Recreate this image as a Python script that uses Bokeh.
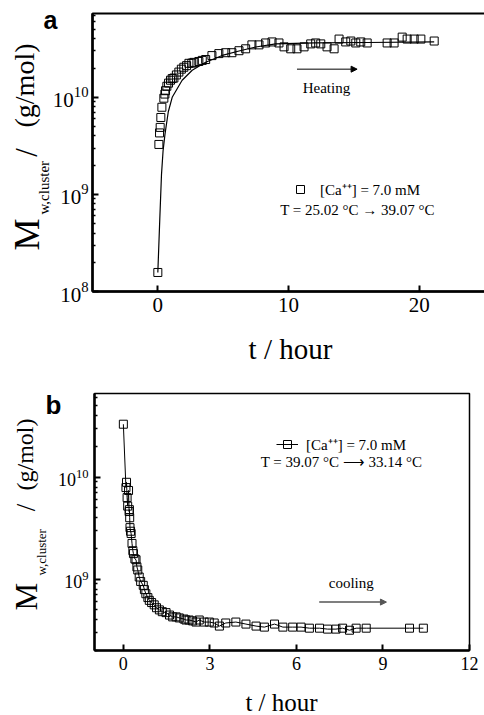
import math
from bokeh.plotting import figure
from bokeh.layouts import column
from bokeh.models import (Label, Arrow, NormalHead, Legend, LegendItem,
                          FixedTicker, BoxAnnotation, Range1d)
from bokeh.embed import file_html
from bokeh.resources import INLINE

SERIF = "Liberation Serif"
SANS = "Liberation Sans"

# ---------------- panel a data (heating) ----------------
t_a = [0.0, 0.08, 0.13, 0.18, 0.23, 0.31, 0.46, 0.54, 0.59, 0.69, 0.82, 0.97, 1.1, 1.23,
       1.42, 1.61, 1.8, 1.99, 2.2, 2.38, 2.6, 2.76, 3.14, 3.4, 3.66, 4.14, 4.67, 5.19,
       5.67, 6.21, 6.72, 7.2, 7.74, 8.25, 8.74, 9.27, 9.66, 10.17, 10.65, 11.19, 11.7,
       12.08, 12.47, 12.95, 13.49, 13.87, 14.38, 14.77, 15.15, 15.53, 16.02, 17.55,
       18.08, 18.7, 19.08, 19.62, 20.13, 21.15]
M_a = [1.57e8, 3.27e9, 4.3e9, 4.9e9, 6.2e9, 7.9e9, 9.8e9, 1.08e10, 1.17e10, 1.3e10,
       1.4e10, 1.5e10, 1.56e10, 1.58e10, 1.7e10, 1.82e10, 1.95e10, 2.04e10, 2.12e10,
       2.24e10, 2.25e10, 2.29e10, 2.34e10, 2.4e10, 2.45e10, 2.69e10, 2.82e10, 2.88e10,
       2.88e10, 3.02e10, 3.16e10, 3.47e10, 3.47e10, 3.63e10, 3.72e10, 3.63e10, 3.31e10,
       3.16e10, 3.16e10, 3.31e10, 3.55e10, 3.63e10, 3.55e10, 3.31e10, 3.16e10, 3.98e10,
       3.72e10, 3.8e10, 3.63e10, 3.72e10, 3.63e10, 3.63e10, 3.63e10, 4.17e10, 3.98e10,
       3.98e10, 3.98e10, 3.8e10]

fit_t_a = [0.0, 0.15, 0.28, 0.4, 0.55, 0.8, 1.1, 1.86, 2.63, 3.66, 4.93, 6.21, 7.49,
           9.02, 12.0, 16.0, 21.15]
fit_M_a = [1.57e8, 5.6e8, 1.6e9, 2.8e9, 4.2e9, 7.1e9, 1.0e10, 1.5e10, 1.9e10, 2.3e10,
           2.7e10, 3.0e10, 3.3e10, 3.55e10, 3.63e10, 3.67e10, 3.72e10]

a_xlim = (-5, 25)
a_ylim = (1e8, 7.3e10)
a_xticks = [0, 10, 20]
a_yticks = [1e8, 1e9, 1e10]
a_yminor = [2e8, 3e8, 4e8, 5e8, 6e8, 7e8, 8e8, 9e8,
            2e9, 3e9, 4e9, 5e9, 6e9, 7e9, 8e9, 9e9,
            2e10, 3e10, 4e10, 5e10, 6e10, 7e10]

# ---------------- panel b data (cooling) ----------------
t_b = [0.0, 0.09, 0.11, 0.13, 0.15, 0.18, 0.2, 0.21, 0.22, 0.23, 0.25, 0.27, 0.3, 0.33,
       0.35, 0.4, 0.44, 0.47, 0.5, 0.55, 0.6, 0.69, 0.73, 0.78, 0.85, 0.9, 0.98, 1.07,
       1.15, 1.25, 1.35, 1.48, 1.6, 1.71, 1.83, 1.94, 2.1, 2.17, 2.28, 2.4, 2.52, 2.63,
       2.8, 2.98, 3.15, 3.33, 3.55, 3.9, 4.25, 4.6, 4.89, 5.24, 5.53, 5.87, 6.16, 6.45,
       6.8, 7.08, 7.37, 7.6, 7.84, 8.07, 8.42, 9.92, 10.4]
M_b = [3.3e10, 7.9e9, 8.9e9, 6.3e9, 5.2e9, 7.4e9, 4.6e9, 4.8e9, 4.0e9, 3.2e9, 2.95e9,
       2.8e9, 2.24e9, 1.9e9, 1.78e9, 1.58e9, 1.55e9, 1.32e9, 1.23e9, 1.05e9, 9.5e8,
       8.7e8, 7.9e8, 7.2e8, 6.6e8, 6.2e8, 5.9e8, 5.6e8, 5.25e8, 5.0e8, 4.8e8, 4.7e8,
       4.45e8, 4.27e8, 4.27e8, 4.17e8, 4.07e8, 3.98e8, 3.98e8, 3.9e8, 3.8e8, 3.98e8,
       3.8e8, 3.8e8, 3.72e8, 3.47e8, 3.72e8, 3.8e8, 3.63e8, 3.47e8, 3.39e8, 3.63e8,
       3.39e8, 3.39e8, 3.39e8, 3.31e8, 3.31e8, 3.24e8, 3.24e8, 3.31e8, 3.16e8, 3.31e8,
       3.31e8, 3.31e8, 3.31e8]

b_xlim = (-1, 12)
b_ylim = (2e8, 6.6e10)
b_xticks = [0, 3, 6, 9, 12]
b_yticks = [1e9, 1e10]
b_yminor = [2e8, 3e8, 4e8, 5e8, 6e8, 7e8, 8e8, 9e8,
            2e9, 3e9, 4e9, 5e9, 6e9, 7e9, 8e9, 9e9,
            2e10, 3e10, 4e10, 5e10, 6e10]

W = 484
HA, HB = 372, 343


def canvas_ranges(xlim, ylim, box, w, h):
    """Extend the axis limits so that the axis box lands at `box` (l, t, r, b) px
    while the plot frame fills the whole canvas."""
    l, t, r, b = box
    kx = (xlim[1] - xlim[0]) / (r - l)
    x0 = xlim[0] - l * kx
    x1 = xlim[1] + (w - r) * kx
    ly0, ly1 = math.log10(ylim[0]), math.log10(ylim[1])
    ky = (ly1 - ly0) / (b - t)
    y0 = 10 ** (ly0 - (h - b) * ky)
    y1 = 10 ** (ly1 + t * ky)
    return Range1d(x0, x1), Range1d(y0, y1)


def make_fig(xlim, ylim, box, h, xticks, yticks, yminor, tick_font, standoff_y):
    xr, yr = canvas_ranges(xlim, ylim, box, W, h)
    p = figure(width=W, height=h, x_range=xr, y_range=yr, y_axis_type="log",
               output_backend="svg", toolbar_location=None, title=None,
               min_border=0, min_border_left=0, min_border_right=0,
               min_border_top=0, min_border_bottom=0)
    p.grid.visible = False
    p.outline_line_color = None
    p.background_fill_color = "white"
    p.border_fill_color = "white"
    xa, ya = p.xaxis[0], p.yaxis[0]
    xa.ticker = FixedTicker(ticks=xticks, minor_ticks=[])
    ya.ticker = FixedTicker(ticks=yticks, minor_ticks=yminor)
    xa.fixed_location = ylim[0]
    xa.bounds = xlim
    ya.fixed_location = xlim[0]
    ya.bounds = ylim
    for ax in (xa, ya):
        ax.axis_line_width = 2.5
        ax.axis_line_color = "black"
        ax.major_tick_in = 6
        ax.major_tick_out = 0
        ax.minor_tick_in = 3
        ax.minor_tick_out = 0
        ax.major_tick_line_width = 2
        ax.minor_tick_line_width = 1.5
        ax.major_tick_line_color = "black"
        ax.minor_tick_line_color = "black"
        ax.major_label_text_font = SERIF
        ax.major_label_text_font_size = tick_font
        ax.major_label_text_color = "black"
        ax.major_label_standoff = 6
    ya.major_label_standoff = standoff_y
    return p


BASE_SHIFT = 0.33  # em; Bokeh draws an "alphabetic" anchor this much below the baseline


def lab(p, x, y, text, size, font=SERIF, angle=0.0, align="left",
        baseline="alphabetic", style="normal"):
    px = float(size.replace("px", ""))
    if baseline == "alphabetic":
        if angle:
            x -= BASE_SHIFT * px
        else:
            y += BASE_SHIFT * px
    p.add_layout(Label(x=x, y=y, x_units="screen", y_units="screen", text=text,
                       angle=angle, text_font=font, text_font_size=size,
                       text_font_style=style, text_align=align,
                       text_baseline=baseline, text_color="black"))


def ylabel(p, h, parts):
    # rotated composite label  M_{w,cluster} / (g/mol); parts: (text, size, x_base, y_start)
    for text, size, xb, ys in parts:
        lab(p, xb, h - ys, text, size, angle=math.pi / 2,
            align="center" if text == "/" else "left")


# ======================= panel a =======================
box_a = (92, 13, 484, 291)
p1 = make_fig(a_xlim, a_ylim, box_a, HA, a_xticks, a_yticks, a_yminor, "21px", 4)
p1.add_layout(BoxAnnotation(left=a_xlim[0], right=a_xlim[1] + 5, bottom=a_ylim[0],
                            top=a_ylim[1], fill_alpha=0, line_color="black",
                            line_alpha=1.0, line_width=2))
p1.line(fit_t_a, fit_M_a, line_color="black", line_width=1.2)
sa = p1.scatter(t_a, M_a, marker="square", size=8, fill_color=None,
                line_color="black", line_width=1)
leg_a = Legend(items=[LegendItem(label="[Ca\u207a\u207a] = 7.0 mM", renderers=[sa])],
               location=(290, HA - 199), glyph_width=20, glyph_height=20,
               label_standoff=10, padding=0, margin=0, spacing=0,
               border_line_color=None, background_fill_alpha=0,
               label_text_font=SERIF, label_text_font_size="15px",
               label_text_color="black", label_height=20)
p1.add_layout(leg_a)
lab(p1, 357, HA - 209, "T = 25.02 \u00b0C \u2192 39.07 \u00b0C", "15px",
    align="center", baseline="middle")
p1.add_layout(Arrow(x_start=10.65, y_start=1.95e10, x_end=15.25, y_end=1.95e10,
                    line_color="black", line_width=1,
                    end=NormalHead(size=6, fill_color="black", line_color="black")))
p1.add_layout(Label(x=12.9, y=1.26e10, text="Heating", text_font=SERIF,
                    text_font_size="15px", text_color="black",
                    text_align="center", text_baseline="middle"))
lab(p1, 43, HA - 28, "a", "25px", font=SANS, style="bold")
lab(p1, 290, HA - 358, "t / hour", "29px", align="center")
ylabel(p1, HA, [("M", "36px", 38, 250),
                ("w,cluster", "15px", 48, 214),
                ("/", "31px", 36, 152),
                ("(g/mol)", "28px", 33, 127)])

# ======================= panel b =======================
box_b = (94, 21, 469, 278)
p2 = make_fig(b_xlim, b_ylim, box_b, HB, b_xticks, b_yticks, b_yminor, "18px", 6)
p2.add_layout(BoxAnnotation(left=b_xlim[0], right=b_xlim[1], bottom=b_ylim[0],
                            top=b_ylim[1], fill_alpha=0, line_color="black",
                            line_alpha=1.0, line_width=1.5))
lb = p2.line(t_b, M_b, line_color="black", line_width=1)
sb = p2.scatter(t_b, M_b, marker="square", size=8, fill_color=None,
                line_color="black", line_width=1)
leg_b = Legend(items=[LegendItem(label="[Ca\u207a\u207a] = 7.0 mM", renderers=[lb, sb])],
               location=(276, HB - (454 - HA)), glyph_width=22, glyph_height=20,
               label_standoff=8, padding=0, margin=0, spacing=0,
               border_line_color=None, background_fill_alpha=0,
               label_text_font=SERIF, label_text_font_size="15px",
               label_text_color="black", label_height=20)
p2.add_layout(leg_b)
lab(p2, 341, HB - (461 - HA), "T = 39.07 \u00b0C \u27f6 33.14 \u00b0C", "15px",
    align="center", baseline="middle")
p2.add_layout(Arrow(x_start=6.79, y_start=5.96e8, x_end=9.12, y_end=5.96e8,
                    line_color="#555555", line_width=1.5,
                    end=NormalHead(size=6, fill_color="#555555", line_color="#555555")))
p2.add_layout(Label(x=7.9, y=9.1e8, text="cooling", text_font=SERIF,
                    text_font_size="15px", text_color="black",
                    text_align="center", text_baseline="middle"))
lab(p2, 45, HB - (413 - HA), "b", "26px", font=SANS, style="bold")
lab(p2, 281, HB - (710 - HA), "t / hour", "25px", align="center")
ylabel(p2, HB, [("M", "31px", 36, 610 - HA),
                ("w,cluster", "13px", 45, 575 - HA),
                ("/", "27px", 34, 507 - HA),
                ("(g/mol)", "24px", 32, 490 - HA)])

layout = column(p1, p2, spacing=0)
open("out.html", "w").write(file_html(layout, INLINE))
